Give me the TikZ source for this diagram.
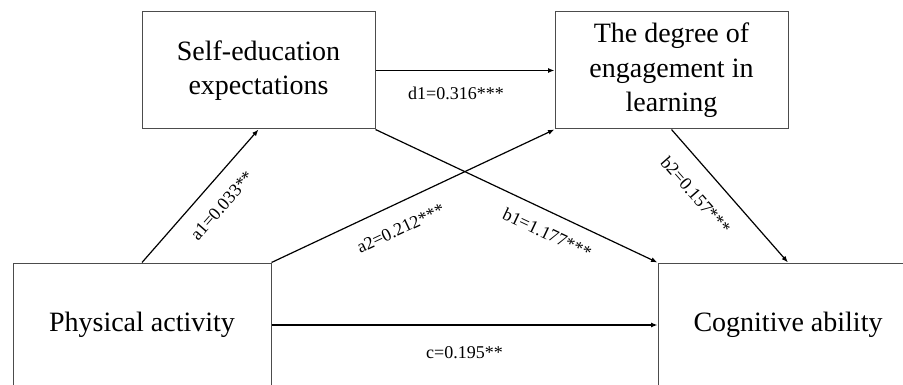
\documentclass[tikz,border=0pt]{standalone}
\usepackage{fontspec}
\setmainfont{Liberation Serif}
\usetikzlibrary{arrows.meta}
\begin{document}
\begin{tikzpicture}[x=1pt,y=-1pt,
    var/.style={draw=black!70, line width=1pt, inner sep=0pt, align=center,
        font=\fontsize{28}{34.5}\selectfont},
    link/.style={-{Latex[length=6.5pt,width=5pt]}, line width=1.2pt},
    coef/.style={font=\fontsize{18}{20}\selectfont, inner sep=2pt, sloped}]
                \useasboundingbox (0,0) rectangle (903,385);

                \node[var, minimum width=233pt, minimum height=117pt] (see) at (258.5,70.5) {Self-education\\expectations};
                \node[var, minimum width=233pt, minimum height=117pt] (eng) at (671.5,70.5) {The degree of\\engagement in\\learning};
                \node[var, minimum width=258pt, minimum height=124pt] (pa) at (142,325) {Physical activity};
                \node[var, minimum width=260pt, minimum height=124pt] (cog) at (788,325) {Cognitive ability};

                \draw[link] (pa.north) -- node[coef, pos=0.54, below=14pt] {a1=0.033**} (see.south);
                \draw[link] (pa.north east) -- node[coef, pos=0.42, below=15.5pt] {a2=0.212***} (eng.south west);
                \draw[link] (see.east) -- node[coef, pos=0.45, below=14pt] {d1=0.316***} (eng.west);
                \draw[link] (see.south east) -- node[coef, pos=0.64, below=11.5pt] {b1=1.177***} (cog.north west);
                \draw[link] (eng.south) -- node[coef, pos=0.37, below=16pt] {b2=0.157***} (cog.north);
                \draw[link] (pa.east) -- node[coef, pos=0.5, below=19pt] {c=0.195**} (cog.west);
            \end{tikzpicture}
\end{document}
